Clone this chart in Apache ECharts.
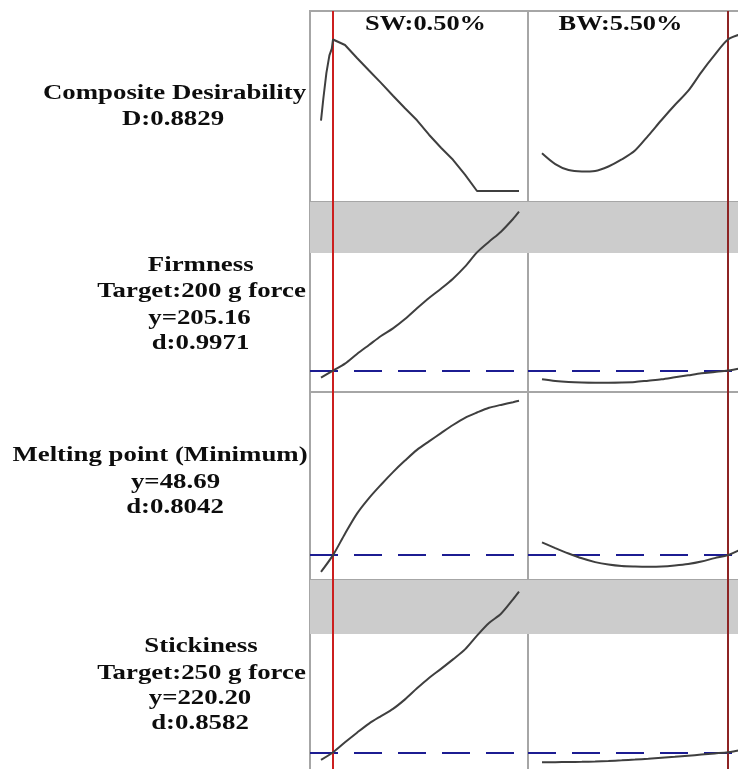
<!DOCTYPE html>
<html><head><meta charset="utf-8">
<style>html,body{margin:0;padding:0;background:#fff;overflow:hidden;width:738px;height:769px;}#c{width:770px;height:800px;}</style>
<script src="https://cdn.jsdelivr.net/npm/echarts@6.0.0/dist/echarts.min.js"></script>
</head><body><div id="c"></div>
<script>
// ---------- data ----------
const factorHeaders = ['SW:0.50%', 'BW:5.50%'];
const currentSW = 0.50;
const currentBW = 5.50;

const swLevelsD = [0.40, 0.42, 0.445, 0.47, 0.49, 0.50, 0.60, 0.70, 0.80, 0.90, 1.00, 1.10, 1.20, 1.30, 1.40, 1.50, 1.60, 1.70, 1.80, 1.90, 2.00, 2.05];
const swLevels  = [0.40, 0.50, 0.60, 0.70, 0.80, 0.90, 1.00, 1.10, 1.20, 1.30, 1.40, 1.50, 1.60, 1.70, 1.80, 1.90, 2.00, 2.05];
const bwLevels  = [2.00, 2.25, 2.50, 2.75, 3.00, 3.25, 3.50, 3.75, 4.00, 4.25, 4.50, 4.75, 5.00, 5.25, 5.50, 5.75];

const desirSW = [0.410, 0.542, 0.688, 0.790, 0.830, 0.8829, 0.851, 0.775, 0.702, 0.630, 0.555, 0.482, 0.412, 0.328, 0.252, 0.182, 0.095, 0, 0, 0, 0, 0];
const desirBW = [0.220, 0.157, 0.122, 0.114, 0.117, 0.143, 0.184, 0.236, 0.323, 0.414, 0.501, 0.583, 0.693, 0.793, 0.8829, 0.915];

const firmSW = [184, 205.16, 226, 255, 282, 309, 332, 360, 392, 423, 451, 481, 517, 560, 592, 622, 660, 682];
const firmBW = [179, 174, 171, 169.5, 169, 169, 169.5, 171, 175, 179, 185, 191, 197, 201, 205.16, 212];

const meltSW = [47.02, 48.69, 50.83, 52.84, 54.39, 55.73, 56.99, 58.14, 59.21, 60.06, 60.89, 61.70, 62.42, 62.95, 63.42, 63.71, 63.98, 64.12];
const meltBW = [49.96, 49.39, 48.85, 48.37, 47.99, 47.74, 47.59, 47.54, 47.52, 47.54, 47.64, 47.79, 48.04, 48.39, 48.69, 49.29];

const stickSW = [197.1, 220.2, 250.2, 279, 306.3, 328.8, 350.4, 378.9, 412, 443.1, 470.4, 498.9, 528.9, 570, 607.8, 635.7, 678.9, 702];
const stickBW = [190.2, 190.5, 191, 191.7, 192.6, 194.1, 195.9, 198.2, 200.7, 203.5, 206.4, 209.8, 213.3, 216.7, 220.2, 227.1];

const currentY = [null, 205.16, 48.69, 220.20];
const bandFrom = [null, 558, null, 575];

const rowLabels = [
  ['Composite Desirability', 'D:0.8829'],
  ['Firmness', 'Target:200 g force', 'y=205.16', 'd:0.9971'],
  ['Melting point (Minimum)', 'y=48.69', 'd:0.8042'],
  ['Stickiness', 'Target:250 g force', 'y=220.20', 'd:0.8582']
];

// ---------- layout ----------
const rowTop = [11, 202, 392, 580];
const rowH = [191, 190, 188, 190];
const colLeft = [310, 528];
const colW = 218;
const yRange = [[-0.064, 1.049], [141, 711], [46.2, 65.0], [167, 737]];
const xRange = [[0.3083, 2.125], [1.7365, 5.839]];
const labelPos = [
  [[174.5, 93.5], [173, 119]],
  [[200.7, 265], [201.5, 291.5], [199.5, 318], [200.5, 343]],
  [[160, 455], [175.5, 482], [175, 507]],
  [[201, 646.5], [201.5, 673], [200, 698], [200, 723]]
];
const headerPos = [[425.5, 24.5], [620.5, 24.5]];

const curves = [
  [[swLevelsD, desirSW], [bwLevels, desirBW]],
  [[swLevels, firmSW], [bwLevels, firmBW]],
  [[swLevels, meltSW], [bwLevels, meltBW]],
  [[swLevels, stickSW], [bwLevels, stickBW]]
];
const currentX = [currentSW, currentBW];
const redColor = ['#cc1f1f', '#8e2424'];

const grids = [], xAxes = [], yAxes = [], series = [];
for (let r = 0; r < 4; r++) {
  for (let c = 0; c < 2; c++) {
    const idx = grids.length;
    grids.push({left: colLeft[c], top: rowTop[r], width: colW, height: rowH[r],
      show: true, borderColor: '#a6a6a6', borderWidth: 2, backgroundColor: 'transparent'});
    xAxes.push({type: 'value', gridIndex: idx, min: xRange[c][0], max: xRange[c][1], show: false});
    yAxes.push({type: 'value', gridIndex: idx, min: yRange[r][0], max: yRange[r][1], show: false});
    const [xs, ys] = curves[r][c];
    const mlData = [];
    if (currentY[r] !== null) {
      mlData.push({yAxis: currentY[r], lineStyle: {color: '#1c1c92', width: 2, type: [28, 16]}});
    }
    mlData.push({xAxis: currentX[c], lineStyle: {color: redColor[c], width: 2, type: 'solid'}});
    const s = {
      type: 'line', xAxisIndex: idx, yAxisIndex: idx,
      data: xs.map((x, i) => [x, ys[i]]),
      showSymbol: false, symbol: 'none',
      smooth: (r === 0 && c === 0) ? false : 0.3,
      lineStyle: {color: '#3f3f3f', width: 2},
      silent: true, z: 3,
      markLine: {symbol: 'none', silent: true, label: {show: false}, data: mlData, z: 2},
    };
    if (bandFrom[r] !== null) {
      s.markArea = {silent: true, itemStyle: {color: '#cccccc'},
        data: [[{yAxis: bandFrom[r]}, {yAxis: yRange[r][1]}]]};
    }
    series.push(s);
  }
}

const graphics = [];
const FONT = 'bold 22px "Liberation Serif", "Times New Roman", serif';
rowLabels.forEach((lines, r) => {
  lines.forEach((t, k) => {
    graphics.push({type: 'text', x: labelPos[r][k][0], y: labelPos[r][k][1], scaleX: 1.22, z: 10,
      style: {text: t, font: FONT, fill: '#0d0d0d', align: 'center', verticalAlign: 'middle'}});
  });
});
factorHeaders.forEach((t, c) => {
  graphics.push({type: 'text', x: headerPos[c][0], y: headerPos[c][1], scaleX: 1.2, z: 10,
    style: {text: t, font: FONT, fill: '#0d0d0d', align: 'center', verticalAlign: 'middle'}});
});

const chart = echarts.init(document.getElementById('c'), null, {renderer: 'canvas'});
chart.setOption({
  animation: false,
  backgroundColor: '#ffffff',
  grid: grids, xAxis: xAxes, yAxis: yAxes, series: series,
  graphic: graphics
});
</script></body></html>
